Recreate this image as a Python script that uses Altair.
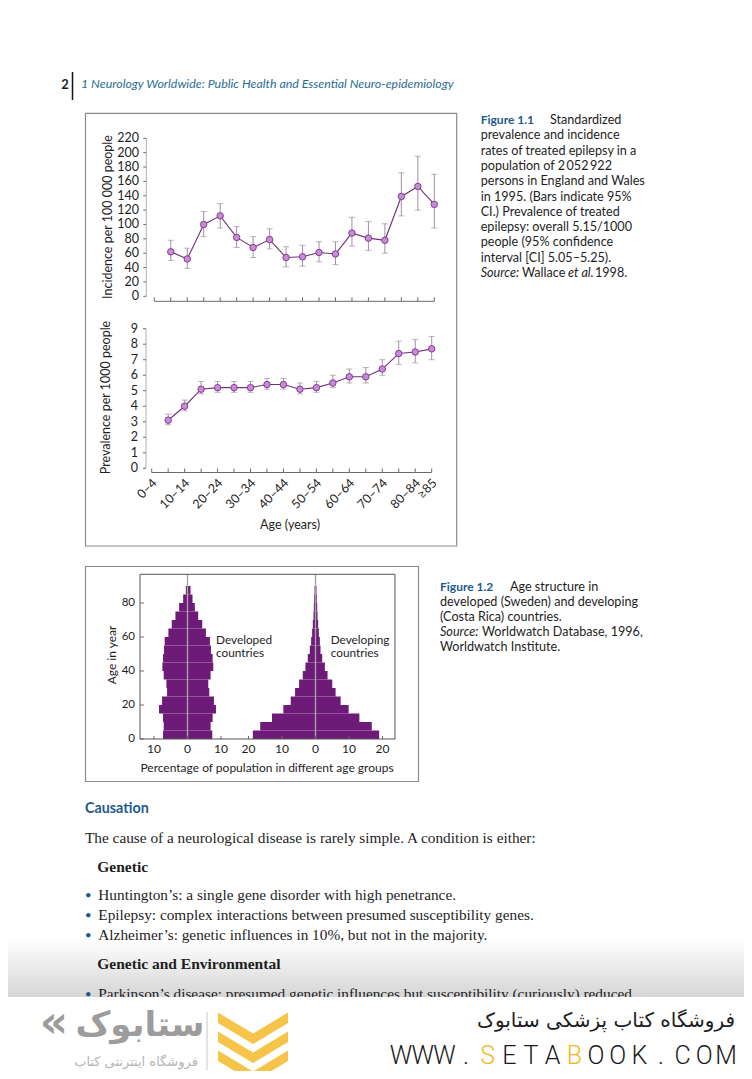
import altair as alt
import pandas as pd

# ---------------- data ----------------
age_groups = ["0–4", "5–9", "10–14", "15–19", "20–24", "25–29", "30–34", "35–39",
              "40–44", "45–49", "50–54", "55–59", "60–64", "65–69", "70–74", "75–79",
              "80–84", "≥85"]
data_ages = age_groups[1:]
age_tick_labels = ["0–4", "10–14", "20–24", "30–34", "40–44", "50–54", "60–64",
                   "70–74", "80–84", "≥85"]

inc_rate = [62, 52, 100, 112, 82, 68, 79, 54, 55, 61, 59, 88, 81, 78, 139, 153, 128]
inc_lo = [50, 39, 83, 95, 68, 54, 66, 41, 42, 48, 44, 70, 64, 60, 112, 120, 95]
inc_hi = [78, 67, 118, 129, 97, 83, 94, 69, 71, 76, 76, 110, 104, 101, 172, 195, 170]
inc_ticks = [0, 20, 40, 60, 80, 100, 120, 140, 160, 180, 200, 220]

prev_rate = [3.1, 4.0, 5.1, 5.2, 5.2, 5.2, 5.4, 5.4, 5.1, 5.2, 5.5, 5.9, 5.9, 6.4, 7.4, 7.5, 7.7]
prev_lo = [2.8, 3.7, 4.8, 4.9, 4.9, 4.9, 5.1, 5.1, 4.8, 4.9, 5.2, 5.5, 5.5, 6.0, 6.7, 6.8, 7.0]
prev_hi = [3.5, 4.4, 5.6, 5.6, 5.6, 5.6, 5.8, 5.8, 5.5, 5.6, 6.0, 6.4, 6.5, 7.0, 8.2, 8.3, 8.5]
prev_ticks = [0, 1, 2, 3, 4, 5, 6, 7, 8, 9]

band_start = [0, 5, 10, 15, 20, 25, 30, 35, 40, 45, 50, 55, 60, 65, 70, 75, 80, 85]
band_end = [5, 10, 15, 20, 25, 30, 35, 40, 45, 50, 55, 60, 65, 70, 75, 80, 85, 90]
dev_left = [7.3, 7.1, 7.3, 8.5, 7.6, 6.1, 6.3, 7.1, 7.5, 7.3, 7.0, 6.8, 5.7, 4.7, 3.6, 2.5, 1.3, 0.5]
dev_right = [7.4, 6.9, 7.5, 8.5, 7.9, 6.5, 6.2, 6.9, 7.7, 7.5, 7.0, 6.7, 5.5, 4.4, 3.2, 2.2, 1.5, 0.9]
dvg_left = [18.7, 16.5, 13.0, 9.6, 7.4, 6.1, 4.9, 3.8, 3.0, 2.3, 1.7, 1.3, 1.0, 0.8, 0.6, 0.5, 0.4, 0.3]
dvg_right = [19.0, 16.8, 13.1, 9.9, 7.5, 6.0, 5.0, 3.6, 2.8, 2.0, 1.5, 1.3, 1.0, 0.8, 0.6, 0.5, 0.4, 0.3]
pyr_y_ticks = [0, 20, 40, 60, 80]
dev_x_ticks = [-10, 0, 10]
dvg_x_ticks = [-20, -10, 0, 10, 20]

# ---------------- texts ----------------
header_num = "2"
header_text = "1  Neurology Worldwide: Public Health and Essential Neuro-epidemiology"
inc_title = "Incidence per 100 000 people"
prev_title = "Prevalence per 1000 people"
age_title = "Age (years)"
pyr_y_title = "Age in year"
pyr_x_title = "Percentage of population in different age groups"
pyr_labels_dev = ["Developed", "countries"]
pyr_labels_dvg = ["Developing", "countries"]

cap1_label = "Figure 1.1"
cap1_first = "Standardized"
cap1_lines = ["prevalence and incidence", "rates of treated epilepsy in a",
              "population of 2\u2009052\u2009922", "persons in England and Wales",
              "in 1995. (Bars indicate 95%", "CI.) Prevalence of treated",
              "epilepsy: overall 5.15/1000", "people (95% confidence",
              "interval [CI] 5.05–5.25)."]
cap1_source = ["Source:", "Wallace", "et al.", "1998."]

cap2_label = "Figure 1.2"
cap2_first = "Age structure in"
cap2_lines = ["developed (Sweden) and developing", "(Costa Rica) countries."]
cap2_source = ["Source:", "Worldwatch Database, 1996,"]
cap2_last = "Worldwatch Institute."

body_heading = "Causation"
body_intro = "The cause of a neurological disease is rarely simple. A condition is either:"
sub1 = "Genetic"
bullets1 = ["Huntington’s: a single gene disorder with high penetrance.",
            "Epilepsy: complex interactions between presumed susceptibility genes.",
            "Alzheimer’s: genetic influences in 10%, but not in the majority."]
sub2 = "Genetic and Environmental"
bullet2 = "Parkinson’s disease: presumed genetic influences but susceptibility (curiously) reduced"

footer_fa = "فروشگاه کتاب پزشکی ستابوک"
footer_url = list("WWW.SETABOOK.COM")
logo_fa = "ستابوک"
logo_sub = "فروشگاه اینترنتی کتاب"

# ---------------- styles ----------------
W, H = 736, 1063
FC = "Lato"
FB = "Liberation Serif"
FA = "DejaVu Sans"
BLUE = "#1d5a8c"
TEAL = "#2a6d94"
TXT = "#1e1e1e"
AX = "#6a6a6a"
EB = "#a48ca8"
LINE_C = "#6e3177"
PT_F = "#c98ad9"
PT_S = "#74357f"
PURPLE = "#6e1a78"
FRAME = "#8c8c8c"
YELLOW = "#f5b71f"
CAP = 12.6

ONE = pd.DataFrame({"k": [0]})
CHEVRON = "M -1 -0.5 L 0 0.1 L 1 -0.5 L 1 -0.2 L 0 0.4 L -1 -0.2 Z"


def text(s, x, y, size, font=FC, color=TXT, weight="normal", style="normal",
         align="left", angle=None, baseline="middle"):
    props = dict(align=align, baseline=baseline, font=font, fontSize=size,
                 color=color, fontWeight=weight, fontStyle=style)
    if angle is not None:
        props["angle"] = angle
    return alt.Chart(ONE).mark_text(**props).encode(
        x=alt.value(x), y=alt.value(y), text=alt.value(s))


def seg(x, x2, y, y2, color=AX, width=1.0):
    return alt.Chart(ONE).mark_rule(color=color, strokeWidth=width).encode(
        x=alt.value(x), x2=alt.value(x2), y=alt.value(y), y2=alt.value(y2))


def box(x, x2, y, y2, stroke=None, width=1.0, fill=None):
    props = {}
    if stroke:
        props.update(stroke=stroke, strokeWidth=width)
    else:
        props.update(strokeWidth=0)
    if fill is not None:
        props.update(fill=fill, fillOpacity=1)
    else:
        props.update(fillOpacity=0)
    return alt.Chart(ONE).mark_rect(**props).encode(
        x=alt.value(x), x2=alt.value(x2), y=alt.value(y), y2=alt.value(y2))


layers = []

# ---------------- header ----------------
layers += [
    text(header_num, 57, 77, 13, weight="bold", align="center"),
    seg(64.5, 64.5, 64, 92, color="#111", width=1.5),
    text(header_text, 73, 76, 12.4, color=TEAL, style="italic"),
]

# ---------------- figure 1.1 ----------------
layers.append(box(77.5, 448.7, 105.3, 538, stroke=FRAME, width=1.2))


def line_panel(df_vals, ticks, x0, x1, y0, y1, dom_top, tick_x, lab_x, xline_y, title, title_x, title_y):
    xs = lambda: alt.Scale(type="point", domain=age_groups, range=[x0, x1], padding=0)
    ys = lambda: alt.Scale(domain=[0, dom_top], range=[y0, y1], nice=False, zero=False)
    X = lambda: alt.X("age:N", scale=xs(), axis=None)
    tdf = pd.DataFrame({"t": ticks})
    adf = pd.DataFrame({"age": age_groups})
    parts = [
        alt.Chart(df_vals).mark_rule(color=EB, strokeWidth=1).encode(
            x=X(), y=alt.Y("lo:Q", scale=ys(), axis=None), y2="hi:Q"),
        alt.Chart(df_vals).mark_tick(color=EB, size=6, thickness=1).encode(
            x=X(), y=alt.Y("lo:Q", scale=ys(), axis=None)),
        alt.Chart(df_vals).mark_tick(color=EB, size=6, thickness=1).encode(
            x=X(), y=alt.Y("hi:Q", scale=ys(), axis=None)),
        alt.Chart(df_vals).mark_line(color=LINE_C, strokeWidth=1.1).encode(
            x=X(), y=alt.Y("v:Q", scale=ys(), axis=None)),
        alt.Chart(df_vals).mark_circle(size=42, color=PT_F, stroke=PT_S, strokeWidth=0.9, opacity=1).encode(
            x=X(), y=alt.Y("v:Q", scale=ys(), axis=None)),
        alt.Chart(tdf).mark_rule(color=AX, strokeWidth=1).encode(
            x=alt.value(tick_x), x2=alt.value(tick_x + 3), y=alt.Y("t:Q", scale=ys(), axis=None)),
        alt.Chart(tdf).mark_text(align="right", baseline="middle", font=FC, fontSize=12.5, color=TXT).encode(
            x=alt.value(lab_x), y=alt.Y("t:Q", scale=ys(), axis=None), text="t:Q"),
        seg(tick_x + 3, tick_x + 3, y1, y0, color="#999", width=0.8),
        alt.Chart(adf).mark_rule(color=AX, strokeWidth=1).encode(
            x=X(), y=alt.value(xline_y - 4), y2=alt.value(xline_y)),
        seg(x0, x1, xline_y, xline_y, color=AX, width=1),
        text(title, title_x, title_y, 12.5, align="center", angle=270),
    ]
    return parts, X


inc_df = pd.DataFrame({"age": data_ages, "v": inc_rate, "lo": inc_lo, "hi": inc_hi})
inc_parts, _ = line_panel(inc_df, inc_ticks, 146.3, 426.3, 288.3, 130.3, 220,
                          135.3, 131, 293.3, inc_title, 100, 209)
layers.append(alt.layer(*inc_parts))

prev_df = pd.DataFrame({"age": data_ages, "v": prev_rate, "lo": prev_lo, "hi": prev_hi})
prev_parts, Xp = line_panel(prev_df, prev_ticks, 143.7, 423.7, 460.3, 320.7, 9,
                            135, 130, 464.5, prev_title, 98, 389.5)
lab_df = pd.DataFrame({"age": age_tick_labels})
prev_parts.append(
    alt.Chart(lab_df).mark_text(angle=315, align="right", baseline="middle", font=FC,
                                fontSize=12.5, color=TXT, xOffset=3).encode(
        x=Xp(), y=alt.value(473), text="age:N"))
prev_parts.append(text(age_title, 282, 517, 12.5, align="center"))
layers.append(alt.layer(*prev_parts))

# caption 1.1
layers.append(text(cap1_label, 472.7, 112, 12, color=BLUE, weight="bold"))
layers.append(text(cap1_first, 542, 112, CAP))
for i, s in enumerate(cap1_lines):
    layers.append(text(s, 472.7, 112 + (i + 1) * 15.3, CAP))
src_y = 112 + 10 * 15.3
layers += [
    text(cap1_source[0], 472.7, src_y, CAP, style="italic"),
    text(cap1_source[1], 514, src_y, CAP),
    text(cap1_source[2], 560, src_y, CAP, style="italic"),
    text(cap1_source[3], 587, src_y, CAP),
]

# ---------------- figure 1.2 ----------------
layers.append(box(77.5, 410.5, 558.5, 773.5, stroke=FRAME, width=1.2))

ys_pyr = lambda: alt.Scale(domain=[0, 80], range=[731, 595], nice=False, zero=False)


def pyramid(left, right, x0, x1, xticks, with_y):
    xs = lambda: alt.Scale(domain=[-10, 10], range=[x0, x1], nice=False, zero=False)
    df = pd.DataFrame({"lo": band_start, "hi": band_end, "left": left, "right": right})
    tdf = pd.DataFrame({"t": xticks})
    parts = [
        alt.Chart(df).transform_calculate(nl="-datum.left").mark_rect(color=PURPLE).encode(
            x=alt.X("nl:Q", scale=xs(), axis=None), x2="right:Q",
            y=alt.Y("lo:Q", scale=ys_pyr(), axis=None), y2="hi:Q"),
        alt.Chart(ONE).mark_rule(color="#a9a1ab", strokeWidth=1.4).encode(
            x=alt.XDatum(0, type="quantitative", scale=xs(), axis=None),
            y=alt.value(731), y2=alt.value(566.3)),
        alt.Chart(tdf).mark_rule(color=AX, strokeWidth=1).encode(
            x=alt.X("t:Q", scale=xs(), axis=None), y=alt.value(728), y2=alt.value(731)),
        alt.Chart(tdf).transform_calculate(lab="abs(datum.t)").mark_text(
            align="center", baseline="middle", font=FC, fontSize=12, color=TXT).encode(
            x=alt.X("t:Q", scale=xs(), axis=None), y=alt.value(741), text="lab:N"),
    ]
    if with_y:
        ydf = pd.DataFrame({"t": pyr_y_ticks})
        parts += [
            alt.Chart(ydf).mark_rule(color=AX, strokeWidth=1).encode(
                x=alt.value(132), x2=alt.value(136), y=alt.Y("t:Q", scale=ys_pyr(), axis=None)),
            alt.Chart(ydf).mark_text(align="right", baseline="middle", font=FC,
                                     fontSize=11.5, color=TXT).encode(
                x=alt.value(127), y=alt.Y("t:Q", scale=ys_pyr(), axis=None), text="t:Q"),
        ]
    return alt.layer(*parts)


layers.append(pyramid(dev_left, dev_right, 146, 213, dev_x_ticks, True))
layers.append(pyramid(dvg_left, dvg_right, 274, 341, dvg_x_ticks, False))
layers.append(box(132, 387, 566.3, 731, stroke="#555", width=1))
layers += [
    text(pyr_y_title, 104, 647, 12, align="center", angle=270),
    text(pyr_x_title, 259, 759.7, 12, align="center"),
    text(pyr_labels_dev[0], 208, 632, 11.8),
    text(pyr_labels_dev[1], 208, 645, 11.8),
    text(pyr_labels_dvg[0], 322.7, 632, 11.8),
    text(pyr_labels_dvg[1], 322.7, 645, 11.8),
]

# caption 1.2
layers.append(text(cap2_label, 432, 578.7, 12, color=BLUE, weight="bold"))
layers.append(text(cap2_first, 502, 578.7, CAP))
for i, s in enumerate(cap2_lines):
    layers.append(text(s, 432, 578.7 + (i + 1) * 15, CAP))
layers.append(text(cap2_source[0], 432, 578.7 + 3 * 15, CAP, style="italic"))
layers.append(text(cap2_source[1], 474, 578.7 + 3 * 15, CAP))
layers.append(text(cap2_last, 432, 578.7 + 4 * 15, CAP))

# ---------------- body ----------------
grad = alt.Gradient(gradient="linear",
                    stops=[alt.GradientStop(color="#ffffff", offset=0),
                           alt.GradientStop(color="#d6d6d6", offset=1)],
                    x1=0, x2=0, y1=0, y2=1)
layers.append(alt.Chart(ONE).mark_rect(color=grad, strokeWidth=0).encode(
    x=alt.value(0), x2=alt.value(W), y=alt.value(930), y2=alt.value(989)))

layers.append(text(body_heading, 77, 801, 14.3, color=BLUE, weight="bold"))
layers.append(text(body_intro, 77, 830.3, 15.3, font=FB))
layers.append(text(sub1, 89.3, 858.7, 15.5, font=FB, weight="bold"))
for i, s in enumerate(bullets1):
    layers.append(text("•", 80.3, 887 + i * 20, 12, color=BLUE, align="center"))
    layers.append(text(s, 90.3, 887 + i * 20, 15.3, font=FB))
layers.append(text(sub2, 89.3, 956.3, 15.5, font=FB, weight="bold"))
layers.append(text("•", 80.3, 986, 12, color=BLUE, align="center"))
layers.append(text(bullet2, 90.3, 986, 15.3, font=FB))

# ---------------- footer ----------------
layers.append(box(0, W, 989, H, fill="#ffffff"))
layers.append(text(footer_fa, 727, 1013, 20, font=FA, align="right"))
url_df = pd.DataFrame({"ch": footer_url, "i": list(range(len(footer_url)))})
layers.append(alt.Chart(url_df).mark_text(font="Roboto", fontSize=25, fontWeight=300,
                                         align="center", baseline="middle").encode(
    x=alt.X("i:Q", scale=alt.Scale(domain=[0, len(footer_url) - 1], range=[393, 718],
                                   nice=False, zero=False), axis=None),
    y=alt.value(1048),
    text="ch:N",
    color=alt.condition((alt.datum.ch == "S") | (alt.datum.ch == "B"),
                        alt.value(YELLOW), alt.value("#1a1a1a"))))
layers += [
    text("«", 46, 1016, 44, font=FA, color="#9c9c9c", weight="bold", align="center"),
    text(logo_fa, 132, 1018, 34, font=FA, color="#9c9c9c", weight="bold", align="center"),
    text(logo_sub, 128, 1054, 13, font=FA, color="#b4b4b4", align="center"),
    seg(199, 199, 1004, 1062, color="#c8c8c8", width=1),
]
for yy in (1022, 1041, 1060):
    layers.append(alt.Chart(ONE).mark_point(shape=CHEVRON, size=4900, filled=True,
                                            color="#f6c448", opacity=1).encode(
        x=alt.value(245), y=alt.value(yy)))

chart = alt.layer(*layers).resolve_scale(x="independent", y="independent").properties(
    width=W, height=H, padding=0, autosize="none", background="white"
).configure_view(strokeWidth=0)

chart.save("out.html", embed_options={"renderer": "svg", "actions": False})
